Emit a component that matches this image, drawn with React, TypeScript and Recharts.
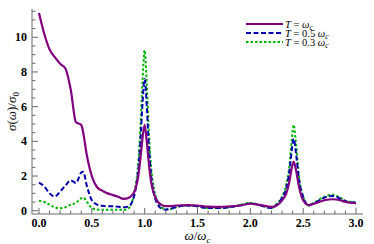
import React from 'react';
import { LineChart, Line, XAxis, YAxis, Legend } from 'recharts';

const omega = [0, 0.05, 0.1, 0.15, 0.2, 0.25, 0.3, 0.35, 0.4, 0.42, 0.45, 0.5, 0.55, 0.6, 0.65, 0.7, 0.75, 0.8, 0.85, 0.88, 0.91, 0.94, 0.96, 0.98, 1.0, 1.02, 1.04, 1.06, 1.09, 1.12, 1.16, 1.2, 1.25, 1.3, 1.4, 1.5, 1.6, 1.7, 1.8, 1.9, 2.0, 2.1, 2.2, 2.25, 2.3, 2.34, 2.37, 2.39, 2.41, 2.43, 2.46, 2.5, 2.55, 2.6, 2.7, 2.78, 2.85, 2.9, 3.0];

const sigmaT1 = [11.4, 10.2, 9.3, 8.85, 8.47, 8.2, 7.0, 5.1, 4.95, 4.45, 3.3, 2.0, 1.35, 1.15, 1.0, 0.9, 0.8, 0.68, 0.75, 0.9, 1.2, 2.0, 3.0, 4.2, 4.95, 4.0, 2.7, 1.7, 0.95, 0.55, 0.33, 0.26, 0.27, 0.3, 0.32, 0.3, 0.23, 0.22, 0.25, 0.3, 0.4, 0.32, 0.22, 0.3, 0.6, 1.0, 1.7, 2.4, 2.83, 2.4, 1.4, 0.6, 0.33, 0.4, 0.6, 0.66, 0.6, 0.5, 0.43];

const sigmaT05 = [1.62, 1.4, 1.0, 0.82, 1.1, 1.45, 1.75, 1.6, 2.2, 2.25, 1.5, 0.6, 0.35, 0.28, 0.25, 0.25, 0.23, 0.2, 0.25, 0.5, 1.1, 2.4, 4.0, 6.2, 7.6, 6.0, 3.7, 2.1, 0.9, 0.4, 0.12, 0.06, 0.12, 0.22, 0.3, 0.25, 0.15, 0.15, 0.2, 0.3, 0.42, 0.3, 0.15, 0.35, 0.75, 1.3, 2.3, 3.4, 4.15, 3.4, 1.8, 0.8, 0.3, 0.42, 0.75, 0.85, 0.7, 0.55, 0.45];

const sigmaT03 = [0.58, 0.5, 0.35, 0.2, 0.14, 0.2, 0.35, 0.45, 0.72, 0.75, 0.55, 0.15, 0.07, 0.05, 0.05, 0.05, 0.05, 0.05, 0.15, 0.5, 1.3, 2.8, 4.8, 7.5, 9.25, 7.3, 4.5, 2.6, 1.2, 0.55, 0.2, 0.08, 0.1, 0.2, 0.3, 0.25, 0.15, 0.15, 0.2, 0.32, 0.45, 0.3, 0.15, 0.4, 0.8, 1.5, 2.6, 4.0, 4.95, 4.0, 2.0, 0.8, 0.3, 0.45, 0.8, 0.92, 0.75, 0.58, 0.48];

const xMajorTicks = [0, 0.5, 1, 1.5, 2, 2.5, 3];
const xMajorLabels = ['0.0', '0.5', '1.0', '1.5', '2.0', '2.5', '3.0'];
const xMinorTicks = [0.1, 0.2, 0.3, 0.4, 0.6, 0.7, 0.8, 0.9, 1.1, 1.2, 1.3, 1.4, 1.6, 1.7, 1.8, 1.9, 2.1, 2.2, 2.3, 2.4, 2.6, 2.7, 2.8, 2.9];
const yMajorTicks = [0, 2, 4, 6, 8, 10];
const yMajorLabels = ['0', '2', '4', '6', '8', '10'];
const yMinorTicks = [0.5, 1, 1.5, 2.5, 3, 3.5, 4.5, 5, 5.5, 6.5, 7, 7.5, 8.5, 9, 9.5, 10.5, 11, 11.5];

const X_DOMAIN: [number, number] = [-0.066, 3.066];
const Y_DOMAIN: [number, number] = [-0.19, 11.63];

const data = omega.map((w, i) => ({ x: w, a: sigmaT1[i], b: sigmaT05[i], c: sigmaT03[i] }));

const FRAME = '#6a6a6a';
const PURPLE = '#800080';
const BLUE = '#0000b0';
const GREEN = '#00b400';
const SERIF = "'Liberation Serif', 'Times New Roman', 'DejaVu Serif', serif";
const serifStyle = { fontFamily: SERIF };
const boldSerifStyle = { fontFamily: SERIF, fontWeight: 700 };

const XTick = (props: any) => {
  const { x, y, payload } = props;
  const v = payload.value as number;
  const idx = xMajorTicks.findIndex((m) => Math.abs(m - v) < 1e-6);
  const major = idx >= 0;
  return (
    <g>
      <line x1={x} x2={x} y1={y} y2={y - (major ? 6 : 3.5)} stroke={FRAME} strokeWidth={1} />
      {major && (
        <text x={x} y={y + 13} textAnchor="middle" style={boldSerifStyle} fontSize={12} fill="#000">
          {xMajorLabels[idx]}
        </text>
      )}
    </g>
  );
};

const YTick = (props: any) => {
  const { x, y, payload } = props;
  const v = payload.value as number;
  const idx = yMajorTicks.findIndex((m) => Math.abs(m - v) < 1e-6);
  const major = idx >= 0;
  return (
    <g>
      <line x1={x} x2={x + (major ? 6 : 3.5)} y1={y} y2={y} stroke={FRAME} strokeWidth={1} />
      {major && (
        <text x={x - 5} y={y + 4} textAnchor="end" style={boldSerifStyle} fontSize={12} fill="#000">
          {yMajorLabels[idx]}
        </text>
      )}
    </g>
  );
};

const XLabel = (props: any) => {
  const vb = props.viewBox || {};
  const cx = vb.x + vb.width / 2;
  const cy = vb.y + 26;
  return (
    <text x={cx} y={cy} textAnchor="middle" style={serifStyle} fontSize={13} fill="#000">
      <tspan fontStyle="italic">ω</tspan>
      <tspan>/</tspan>
      <tspan fontStyle="italic">ω</tspan>
      <tspan fontStyle="italic" fontSize={9} dy={3}>c</tspan>
    </text>
  );
};

const YLabel = (props: any) => {
  const vb = props.viewBox || {};
  const cx = 16;
  const cy = vb.y + vb.height / 2;
  return (
    <text x={cx} y={cy} transform={`rotate(-90 ${cx} ${cy})`} textAnchor="middle" style={serifStyle} fontSize={13} fill="#000">
      <tspan fontStyle="italic">σ</tspan>
      <tspan>(</tspan>
      <tspan fontStyle="italic">ω</tspan>
      <tspan>)/</tspan>
      <tspan fontStyle="italic">σ</tspan>
      <tspan fontSize={9} dy={3}>0</tspan>
    </text>
  );
};

const legendItems = [
  { color: PURPLE, dash: undefined as string | undefined, width: 2.2, coef: '' },
  { color: BLUE, dash: '5 2.5', width: 2, coef: '0.5 ' },
  { color: GREEN, dash: '2.5 2', width: 2, coef: '0.3 ' },
];

const LegendContent = () => (
  <svg width={120} height={36} style={{ display: 'block', overflow: 'visible' }}>
    {legendItems.map((it, i) => {
      const y = 6 + i * 9;
      return (
        <g key={i}>
          <line x1={0} x2={37} y1={y} y2={y} stroke={it.color} strokeWidth={it.width} strokeDasharray={it.dash} />
          <text x={39} y={y + 3.5} style={serifStyle} fontSize={10.5} fill="#000">
            <tspan fontStyle="italic">T</tspan>
            <tspan> = {it.coef}</tspan>
            <tspan fontStyle="italic">ω</tspan>
            <tspan fontStyle="italic" fontSize={7.5} dy={2}>c</tspan>
          </text>
        </g>
      );
    })}
  </svg>
);

export default function App() {
  return (
    <div style={{ position: 'absolute', left: 0, top: 0 }}>
      <LineChart width={374} height={244} data={data} margin={{ top: 9, right: 11, bottom: 0, left: 0 }}>
        <XAxis
          xAxisId="main"
          dataKey="x"
          type="number"
          domain={X_DOMAIN}
          allowDataOverflow
          ticks={[...xMajorTicks, ...xMinorTicks]}
          interval={0}
          tickSize={0}
          tickMargin={0}
          tickLine={false}
          tick={<XTick />}
          axisLine={{ stroke: FRAME, strokeWidth: 1 }}
          height={30}
          label={<XLabel />}
        />
        <XAxis
          xAxisId="top"
          orientation="top"
          dataKey="x"
          type="number"
          domain={X_DOMAIN}
          allowDataOverflow
          tick={false}
          tickLine={false}
          axisLine={{ stroke: FRAME, strokeWidth: 1 }}
          height={0}
        />
        <YAxis
          yAxisId="main"
          type="number"
          domain={Y_DOMAIN}
          allowDataOverflow
          ticks={[...yMajorTicks, ...yMinorTicks]}
          interval={0}
          tickSize={0}
          tickMargin={0}
          tickLine={false}
          tick={<YTick />}
          axisLine={{ stroke: FRAME, strokeWidth: 1 }}
          width={32}
          label={<YLabel />}
        />
        <YAxis
          yAxisId="right"
          orientation="right"
          type="number"
          domain={Y_DOMAIN}
          allowDataOverflow
          tick={false}
          tickLine={false}
          axisLine={{ stroke: FRAME, strokeWidth: 1 }}
          width={0}
        />
        <Legend
          layout="horizontal"
          verticalAlign="middle"
          align="center"
          content={<LegendContent />}
          wrapperStyle={{ position: 'absolute', left: 246, top: 18, width: 120, height: 36 }}
        />
        <Line xAxisId="main" yAxisId="main" type="monotone" dataKey="c" stroke={GREEN} strokeWidth={2} strokeDasharray="2.5 2" dot={false} isAnimationActive={false} />
        <Line xAxisId="main" yAxisId="main" type="monotone" dataKey="b" stroke={BLUE} strokeWidth={2} strokeDasharray="5 2.5" dot={false} isAnimationActive={false} />
        <Line xAxisId="main" yAxisId="main" type="monotone" dataKey="a" stroke={PURPLE} strokeWidth={2.2} dot={false} isAnimationActive={false} />
        <Line xAxisId="top" yAxisId="right" type="monotone" dataKey="a" stroke="none" dot={false} legendType="none" isAnimationActive={false} />
      </LineChart>
    </div>
  );
}
